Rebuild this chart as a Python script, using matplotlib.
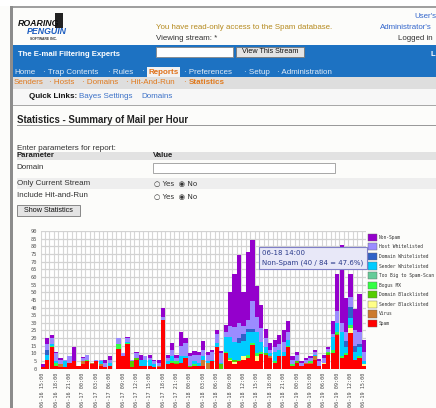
import matplotlib
matplotlib.use('Agg')
import matplotlib.pyplot as plt
from matplotlib.patches import Rectangle
import numpy as np

# ---------------- data ----------------
hours = list(range(73))  # one bar per hour, 06-16 15:00 .. 06-19 15:00
tick_labels = ['06-16 15:00', '06-16 18:00', '06-16 21:00', '06-17 00:00', '06-17 03:00',
               '06-17 06:00', '06-17 09:00', '06-17 12:00', '06-17 15:00', '06-17 18:00',
               '06-17 21:00', '06-18 00:00', '06-18 03:00', '06-18 06:00', '06-18 09:00',
               '06-18 12:00', '06-18 15:00', '06-18 18:00', '06-18 21:00', '06-19 00:00',
               '06-19 03:00', '06-19 06:00', '06-19 09:00', '06-19 12:00', '06-19 15:00']

spam = [1, 6, 14, 2, 1, 1, 4, 5, 2, 3,
        5, 3, 5, 2, 1, 2, 0, 13, 8, 16,
        1, 6, 1.5, 2, 2, 1, 1, 32, 3, 4,
        3, 4, 7, 1, 2, 2, 2, 0, 5, 14,
        0, 10, 5, 3, 5, 6, 7, 15.5, 5, 9.6,
        9, 7, 4, 8, 8, 14, 2, 4, 2, 3,
        3, 6, 2, 3, 9, 10, 22, 7, 9, 23.5,
        6, 7, 2]
virus = [0, 0, 0, 0, 2, 0, 0, 0, 0, 2,
         0, 1, 0, 1, 0, 0, 0, 0, 0, 0,
         0, 0, 0, 0, 0, 0, 1, 0, 0, 0,
         0, 0, 0, 0, 0, 0, 4, 4, 0, 0,
         0, 0, 0, 0, 0, 0, 0, 0, 0, 0,
         0, 1, 0, 0, 0, 0, 0, 0, 0, 1,
         1, 2, 0, 0, 0, 0, 0, 0, 0, 0,
         0, 0, 0]
sender_bl = [0, 0, 0, 0, 0, 0, 0, 0, 0, 0,
             0, 0, 0, 0, 0, 0, 0, 0, 0, 0,
             0, 0, 0, 0, 0, 0, 0, 0, 0, 0,
             0, 0, 0, 0, 0, 0, 0, 0, 0, 0,
             0, 0, 1, 1.5, 0, 2, 0, 0, 3, 0,
             0, 0, 0, 0, 0, 0, 0, 0, 0, 0,
             0, 0, 0, 1, 0, 0, 0, 0, 0, 3,
             0, 0, 1]
domain_bl = [0, 0, 0, 0, 0, 0, 0, 0, 0, 0,
             0, 0, 0, 0, 0, 0, 0, 0, 0, 0,
             4, 1, 0, 0, 0, 0, 0, 0, 0, 0,
             1, 0, 0, 1, 0, 0, 0, 0, 0, 0,
             3, 0, 0, 1, 0, 0, 0, 0, 0, 0,
             1, 0, 0, 0, 0, 0, 0, 1, 0, 0,
             0, 0, 0, 0, 1, 0, 1, 0, 0, 0,
             0, 0, 0]
bogus_mx = [0, 0, 1, 2, 0, 0, 0, 0, 0, 0,
            1, 0, 0, 0, 0, 0, 0, 3, 0, 1,
            0, 0, 0, 0, 0, 0, 0, 0, 0, 1,
            1, 0, 0, 0, 1, 0, 0, 0, 0, 0.5,
            0, 1, 1, 0, 1, 0, 2, 1.5, 2, 1,
            0, 0, 1, 0, 0, 1, 1, 0, 0, 0,
            1, 0, 0, 0, 1, 2, 1, 1, 1, 2,
            0, 1, 0]
too_big = [0, 0, 0, 0, 0, 0, 0, 0, 0, 0,
           0, 0, 0, 0, 0, 0, 0, 0, 0, 0,
           0, 0, 0, 0, 0, 0, 0, 0, 0, 0,
           0, 0, 0, 0, 0, 0, 0, 0, 0, 0,
           0, 0, 0, 0, 0, 0, 0, 0, 0, 0,
           0, 0, 0, 0, 0, 0, 0, 0, 0, 0,
           0, 0, 0, 0, 0, 0, 0, 0, 0, 0,
           0, 0, 0]
sender_wl = [0, 3, 1, 1, 0, 4, 0, 0, 0, 0,
             0, 0, 0, 2, 0, 2, 0, 0, 0, 0.5,
             0, 0, 4, 4, 4, 2, 0, 0, 2, 3,
             0, 4, 1, 0, 2, 2, 2, 1, 1, 2,
             1, 10, 14, 12, 11, 10, 15, 7, 14, 7,
             4, 2, 6, 4, 3, 4, 0, 0, 0, 0,
             0, 1, 0, 0, 0, 9, 6, 16, 4, 4.5,
             5, 6, 2]
domain_wl = [0, 3, 0, 0, 0, 0, 0, 0, 0, 0,
             0, 0, 0, 0, 0, 0, 0, 0, 0, 0,
             0, 0, 0, 0, 0, 0, 0, 0, 0, 0,
             0, 0, 0, 0, 0, 0, 0, 0, 0, 0,
             0, 0, 0, 0, 3, 5, 2, 2, 0, 0,
             0, 0, 0, 0, 0, 0, 0, 0, 0, 0,
             0, 0, 0, 0, 0, 0, 0, 0, 4, 7.5,
             4, 2, 0]
host_wl = [0, 4, 4, 5, 3, 1, 4, 0, 0, 2,
           3, 0, 1, 1, 3, 2, 0, 4, 2, 2.5,
           1, 3, 0.5, 2, 1, 2, 2, 2, 2, 4,
           2, 7, 9, 6, 4, 5, 4, 4, 5, 6,
           6, 3, 7, 9.5, 10, 5, 6, 18, 10, 9,
           6, 2, 3, 4, 6.5, 5, 3, 4, 2, 2,
           2, 2, 3, 3, 2, 2, 8, 6, 6, 6.5,
           10, 8, 6]
non_spam = [2, 4, 2, 1, 1, 0, 0, 9, 0, 0.5,
            0, 0, 0, 0, 2, 2, 0, 0, 0, 1,
            0, 1, 3, 0, 2, 1, 2, 6, 2, 5,
            2, 9, 3, 2, 2.5, 2, 6, 2, 1.5, 2.5,
            1.5, 4.5, 22, 35, 44, 22, 44, 40, 20, 15,
            6, 5, 5, 6, 7.5, 7, 2, 2, 1, 1,
            1, 1, 1.5, 2, 1, 8, 24, 51, 22, 15,
            14, 25, 8]

series_names = ['Spam', 'Virus', 'Sender Blacklisted', 'Domain Blacklisted', 'Bogus MX',
                'Too Big to Spam-Scan', 'Sender Whitelisted', 'Domain Whitelisted',
                'Host Whitelisted', 'Non-Spam']
series_values = [spam, virus, sender_bl, domain_bl, bogus_mx, too_big,
                 sender_wl, domain_wl, host_wl, non_spam]
series_colors = ['#ff0000', '#cc7a2e', '#ffff88', '#55cc00', '#33ff44', '#66cc99',
                 '#00ccff', '#2f62c8', '#9b8cff', '#9400cc']

SANS = 'Liberation Sans'
MONO = 'DejaVu Sans Mono'

W, H = 436, 408
fig = plt.figure(figsize=(W / 100, H / 100), dpi=100)
fig.patch.set_facecolor('#fcfcfa')

bg = fig.add_axes([0, 0, 1, 1])
bg.set_xlim(0, W)
bg.set_ylim(H, 0)
bg.axis('off')


def rect(ax, x0, y0, x1, y1, fc, ec='none', lw=0.8, z=1):
    ax.add_patch(Rectangle((x0, y0), x1 - x0, y1 - y0, facecolor=fc,
                           edgecolor=ec, linewidth=lw, zorder=z))


def txt(ax, x, y, s, size=5.8, color='#333333', weight='normal', style='normal',
        ha='left', family=SANS, z=3):
    ax.text(x, y, s, fontsize=size, color=color, fontweight=weight, fontstyle=style,
            ha=ha, va='center', family=family, zorder=z)


# ---------------- page chrome ----------------
rect(bg, 0, 0, W, 6, '#ffffff')
rect(bg, 11, 6, W, 7.5, '#a0a0a0')
rect(bg, 9.5, 6, 12.8, H, '#8c8c8c')
rect(bg, 10.6, 6, 11.4, H, '#d0d0d0')

# logo
txt(bg, 18, 24, 'ROARING', size=6.3, color='#111111', weight='bold', style='italic')
bg.add_patch(Rectangle((55, 13), 8, 15, facecolor='#222222', edgecolor='none', zorder=2))
txt(bg, 27, 31.5, 'PENGUIN', size=6.3, color='#1a5cc0', weight='bold', style='italic')
txt(bg, 30, 38.5, 'SOFTWARE INC.', size=2.4, color='#333333', weight='bold')

txt(bg, 156, 27.5, 'You have read-only access to the Spam database.', size=5.7, color='#b58a1e')
txt(bg, 156, 38.5, 'Viewing stream: *', size=5.7, color='#333333')
txt(bg, 414, 16, "User's", size=5.7, color='#3366cc')
txt(bg, 380, 27.5, "Administrator's", size=5.7, color='#3366cc')
txt(bg, 398, 38.5, 'Logged in', size=5.7, color='#333333')

# blue header + nav
rect(bg, 12.8, 45, W, 77, '#1d72c2')
txt(bg, 18, 54.5, 'The E-mail Filtering Experts', size=5.6, color='white', weight='bold')
rect(bg, 156, 47, 233, 57, '#ffffff', ec='#888888', lw=0.6, z=2)
rect(bg, 236, 47, 304, 56.5, '#e4e4e4', ec='#777777', lw=0.6, z=2)
txt(bg, 270, 51.8, 'View This Stream', size=5.2, color='#111111', ha='center')
txt(bg, 430, 54.5, 'L', size=5.6, color='white', weight='bold')

nav_col = '#e2ecf7'
txt(bg, 14, 72, 'Home', size=5.8, color=nav_col)
txt(bg, 43, 72, '\u00b7 Trap Contents', size=5.8, color=nav_col)
txt(bg, 108, 72, '\u00b7 Rules', size=5.8, color=nav_col)
txt(bg, 141, 72, '\u00b7', size=5.8, color=nav_col)
rect(bg, 146.5, 66.5, 180, 77, '#f2f2f2', z=2)
txt(bg, 148, 72, 'Reports', size=5.8, color='#e07018', weight='bold')
txt(bg, 184, 72, '\u00b7 Preferences', size=5.8, color=nav_col)
txt(bg, 244, 72, '\u00b7 Setup', size=5.8, color=nav_col)
txt(bg, 277, 72, '\u00b7 Administration', size=5.8, color=nav_col)

rect(bg, 12.8, 77, W, 88.5, '#dedede')
sub_col = '#e07a1e'
txt(bg, 14, 83, 'Senders', size=5.8, color=sub_col)
txt(bg, 49, 83, '\u00b7 Hosts', size=5.8, color=sub_col)
txt(bg, 82, 83, '\u00b7 Domains', size=5.8, color=sub_col)
txt(bg, 126, 83, '\u00b7 Hit-And-Run', size=5.8, color=sub_col)
txt(bg, 183, 83, '\u00b7', size=5.8, color=sub_col)
txt(bg, 189, 83, 'Statistics', size=5.8, color=sub_col, weight='bold')

rect(bg, 12.8, 88.5, W, 105, '#f7f7f7')
rect(bg, 12.8, 105, W, 106.2, '#a8a8a8')
txt(bg, 29, 96.7, 'Quick Links:', size=5.8, color='#111111', weight='bold')
txt(bg, 79, 96.7, 'Bayes Settings', size=5.8, color='#3d72c8')
txt(bg, 141, 96.7, 'Domains', size=5.8, color='#3d72c8')

# title + form
txt(bg, 16.7, 120, 'Statistics - Summary of Mail per Hour', size=6.9, color='#222222', weight='bold')
rect(bg, 16.7, 125.3, W, 126.2, '#9a9a9a')
txt(bg, 16.7, 148.3, 'Enter parameters for report:', size=5.8, color='#333333')
rect(bg, 16.7, 151.5, W, 159.5, '#e2e2e2')
txt(bg, 16.7, 155.6, 'Parameter', size=5.6, color='#222222', weight='bold')
txt(bg, 152.7, 155.6, 'Value', size=5.6, color='#222222', weight='bold')
txt(bg, 16.7, 167.3, 'Domain', size=5.8, color='#333333')
rect(bg, 152.7, 163.3, 335, 172.7, '#ffffff', ec='#999999', lw=0.6, z=2)
rect(bg, 16.7, 177.7, W, 188.5, '#eeeeee')
txt(bg, 16.7, 183.5, 'Only Current Stream', size=5.8, color='#333333')
txt(bg, 154, 183.5, '\u25cb Yes  \u25c9 No', size=5.2, color='#333333', family='DejaVu Sans')
txt(bg, 16.7, 195.7, 'Include Hit-and-Run', size=5.8, color='#333333')
txt(bg, 154, 195.7, '\u25cb Yes  \u25c9 No', size=5.2, color='#333333', family='DejaVu Sans')
rect(bg, 17.3, 205, 80, 215.7, '#e4e4e4', ec='#777777', lw=0.6, z=2)
txt(bg, 48.6, 210.4, 'Show Statistics', size=5.2, color='#111111', ha='center')

# ---------------- chart ----------------
left, right, top, bottom = 40.5, 366.2, 231.0, 368.7
ax = fig.add_axes([left / W, 1 - bottom / H, (right - left) / W, (bottom - top) / H])
ax.set_facecolor('#ffffff')
base = np.zeros(len(hours))
for name, vals, col in zip(series_names, series_values, series_colors):
    v = np.array(vals, dtype=float)
    ax.bar(hours, v, bottom=base, width=0.94, color=col, edgecolor='none',
           label=name, zorder=3)
    base = base + v

ax.set_xlim(-0.5, 72.5)
ax.set_ylim(0, 90)
ax.set_yticks(np.arange(0, 91, 5))
ax.set_xticks(hours[::3])
ax.set_xticklabels(tick_labels, rotation=90, fontsize=3.7, family=MONO, color='#444444')
ax.set_xticks(np.arange(-0.5, 73, 1), minor=True)
ax.tick_params(axis='y', labelsize=3.9, labelcolor='#555555', length=0, pad=2.5)
for lab in ax.get_yticklabels():
    lab.set_family(MONO)
ax.tick_params(axis='x', which='both', length=0, pad=2.5)
ax.grid(axis='y', which='major', color='#d2d2d2', linewidth=0.9, zorder=0)
ax.grid(axis='x', which='minor', color='#d6d6d6', linewidth=0.8, zorder=0)
for s in ax.spines.values():
    s.set_visible(False)

# legend (top to bottom = reverse of stacking order)
leg_top = 237.3
step = 9.58
for k, (name, col) in enumerate(zip(series_names[::-1], series_colors[::-1])):
    yc = leg_top + k * step
    rect(bg, 368, yc - 3.6, 376.7, yc + 3.6, col, ec='#666666', lw=0.3, z=2)
    txt(bg, 378.5, yc, name, size=3.35, color='#333333', family=MONO)

# tooltip overlay
ov = fig.add_axes([0, 0, 1, 1])
ov.set_xlim(0, W)
ov.set_ylim(H, 0)
ov.axis('off')
ov.patch.set_alpha(0)
rect(ov, 259.3, 246.7, 366.7, 269.0, '#e8e8f8', ec='#8080c8', lw=0.8, z=5)
txt(ov, 262, 252.6, '06-18 14:00', size=5.0, color='#2a3a8a', family='DejaVu Sans', z=6)
txt(ov, 262, 263.2, 'Non-Spam (40 / 84 = 47.6%)', size=5.0, color='#2a3a8a',
    family='DejaVu Sans', z=6)

fig.savefig('out.png', dpi=100, facecolor=fig.get_facecolor())
